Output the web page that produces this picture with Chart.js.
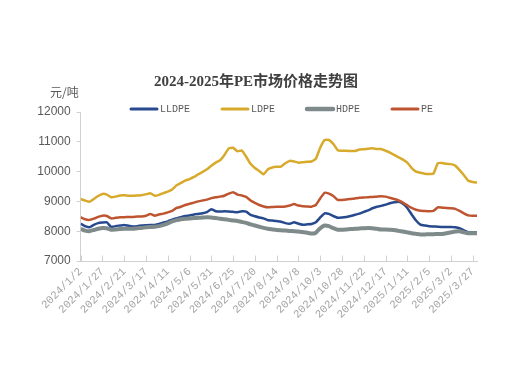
<!DOCTYPE html>
<html>
<head>
<meta charset="utf-8">
<script src="https://cdn.jsdelivr.net/npm/chart.js@4.4.1/dist/chart.umd.min.js"></script>
<style>
  html, body { margin: 0; padding: 0; background: #fff; }
  #wrap { width: 516px; height: 375px; position: relative; }
</style>
</head>
<body>
<div id="wrap"><canvas id="peChart"></canvas></div>
<script>
// 数据：日期按 2024/1/2 起算的天数，每 5 天取一个点
const days = [0,5,10,15,20,25,30,35,40,45,50,55,60,65,70,75,80,85,90,95,
  100,105,110,115,120,125,130,135,140,145,150,155,160,165,170,175,180,185,190,195,
  200,205,210,215,220,225,230,235,240,245,250,255,260,265,270,275,280,285,290,295,
  300,305,310,315,320,325,330,335,340,345,350,355,360,365,370,375,380,385,390,395,
  400,405,410,415,420,425,430,435,440,445,450,455];

const tickLabels = ['2024/1/2','2024/1/27','2024/2/21','2024/3/17','2024/4/11','2024/5/6',
  '2024/5/31','2024/6/25','2024/7/20','2024/8/14','2024/9/8','2024/10/3','2024/10/28',
  '2024/11/22','2024/12/17','2025/1/11','2025/2/5','2025/3/2','2025/3/27'];

const lldpe = [8250,8170,8130,8210,8270,8290,8300,8140,8170,8190,8210,8180,8160,8170,8190,8200,8210,8210,8240,8290,
  8330,8390,8430,8470,8510,8530,8560,8580,8600,8640,8740,8670,8660,8670,8660,8650,8640,8670,8660,8550,
  8500,8460,8430,8370,8360,8340,8320,8270,8250,8300,8250,8220,8230,8240,8300,8460,8600,8580,8510,8450,
  8460,8480,8510,8550,8590,8650,8700,8770,8820,8850,8890,8940,8970,8990,8920,8780,8560,8360,8220,8190,
  8170,8160,8150,8140,8140,8140,8130,8100,8030,7970,7960,7960];

const ldpe = [9080,9030,8990,9080,9180,9250,9230,9140,9160,9200,9210,9190,9190,9200,9210,9240,9270,9190,9220,9280,
  9330,9400,9540,9620,9700,9750,9820,9910,9990,10080,10200,10300,10380,10560,10780,10800,10680,10710,10500,10260,
  10120,10020,9910,10080,10140,10160,10170,10280,10360,10340,10300,10310,10330,10340,10430,10800,11060,11060,10930,10720,
  10700,10700,10690,10690,10740,10750,10770,10780,10760,10760,10700,10640,10560,10480,10400,10300,10120,10000,9960,9930,
  9920,9930,10280,10290,10260,10250,10200,10050,9880,9690,9650,9630];

const hdpe = [8080,8020,8000,8040,8080,8110,8100,8050,8060,8070,8080,8080,8080,8100,8110,8130,8140,8150,8170,8210,
  8260,8330,8370,8400,8420,8430,8440,8450,8460,8470,8460,8440,8420,8400,8380,8360,8340,8310,8280,8230,
  8190,8150,8110,8080,8060,8040,8030,8020,8010,8000,7990,7970,7950,7920,7950,8100,8190,8170,8100,8050,
  8050,8060,8070,8080,8090,8100,8110,8100,8080,8060,8060,8050,8040,8010,7990,7960,7930,7910,7890,7890,
  7900,7900,7910,7910,7930,7960,7990,8000,7960,7930,7930,7930];

const pe = [8470,8400,8380,8420,8480,8520,8510,8430,8450,8470,8470,8480,8480,8490,8490,8520,8580,8520,8560,8590,
  8630,8680,8780,8820,8880,8920,8960,9000,9030,9060,9110,9140,9160,9190,9260,9310,9230,9200,9150,9030,
  8950,8880,8830,8800,8810,8820,8820,8830,8860,8910,8860,8840,8830,8820,8880,9100,9290,9260,9180,9050,
  9050,9060,9080,9100,9120,9130,9140,9150,9160,9170,9160,9120,9080,9030,8960,8870,8780,8720,8690,8680,
  8670,8680,8800,8790,8780,8770,8750,8680,8600,8530,8520,8520];

const seriesNames = ['LLDPE', 'LDPE', 'HDPE', 'PE'];
const seriesColors = ['#274a8e', '#d8aa2c', '#7f8a8b', '#bf5530'];
const seriesWidths = [2.5, 2.5, 4, 2.5];
const seriesValues = [lldpe, ldpe, hdpe, pe];

const titleText = '2024-2025年PE市场价格走势图';
const unitText = '元/吨';

const toPoints = vals => vals.map((v, i) => ({ x: days[i], y: v }));

// 标题、单位和图例
const decorPlugin = {
  id: 'decor',
  afterDraw(chart) {
    const ctx = chart.ctx;
    ctx.save();
    ctx.fillStyle = '#404040';
    ctx.font = 'bold 15px "Liberation Serif", "Noto Sans CJK SC"';
    ctx.textAlign = 'center';
    ctx.textBaseline = 'middle';
    ctx.fillText(titleText, 256, 82);

    ctx.fillStyle = '#595959';
    ctx.font = '12px "Noto Sans CJK SC"';
    ctx.textAlign = 'left';
    ctx.fillText(unitText, 50, 92);

    const legendX = [131, 222, 307, 392];
    ctx.font = '10px "Liberation Mono"';
    seriesNames.forEach((name, i) => {
      ctx.strokeStyle = seriesColors[i];
      ctx.lineWidth = seriesWidths[i] + 0.5;
      ctx.lineCap = 'round';
      ctx.beginPath();
      ctx.moveTo(legendX[i], 109);
      ctx.lineTo(legendX[i] + 26, 109);
      ctx.stroke();
      ctx.fillStyle = '#595959';
      ctx.fillText(name, legendX[i] + 29, 109.5);
    });

    // x 轴刻度线（朝内）
    const xs = chart.scales.x;
    const bottom = chart.chartArea.bottom;
    ctx.strokeStyle = '#d0d0d0';
    ctx.lineWidth = 1;
    xs.ticks.forEach(t => {
      const px = Math.round(xs.getPixelForValue(t.value)) + 0.5;
      ctx.beginPath();
      ctx.moveTo(px, bottom);
      ctx.lineTo(px, bottom - 5);
      ctx.stroke();
    });
    ctx.restore();
  }
};

new Chart(document.getElementById('peChart'), {
  type: 'line',
  data: {
    datasets: seriesNames.map((name, i) => ({
      label: name,
      data: toPoints(seriesValues[i]),
      borderColor: seriesColors[i],
      backgroundColor: seriesColors[i],
      borderWidth: seriesWidths[i],
      pointRadius: 0,
      tension: 0.1,
      order: 4 - i
    }))
  },
  options: {
    responsive: true,
    maintainAspectRatio: false,
    animation: false,
    layout: { padding: { top: 112, right: 39, left: 0, bottom: 0 } },
    plugins: {
      legend: { display: false },
      title: { display: false },
      tooltip: { enabled: false }
    },
    scales: {
      x: {
        type: 'linear',
        min: 0,
        max: 455,
        grid: { display: false, drawTicks: false },
        border: { display: true, color: '#d0d0d0' },
        afterFit(scale) { scale.height = 114; },
        ticks: {
          stepSize: 25,
          includeBounds: false,
          autoSkip: false,
          minRotation: 45,
          maxRotation: 45,
          padding: 4,
          color: '#a6a6a6',
          font: { family: 'Liberation Mono', size: 11 },
          callback: v => tickLabels[v / 25]
        }
      },
      y: {
        min: 7000,
        max: 12000,
        grid: { drawOnChartArea: false, tickLength: 4, color: '#d0d0d0' },
        border: { display: true, color: '#d0d0d0' },
        afterFit(scale) { scale.width = 80.7; },
        ticks: {
          stepSize: 1000,
          padding: 6,
          color: '#595959',
          font: { family: 'Liberation Sans', size: 12 },
          callback: v => String(v)
        }
      }
    }
  },
  plugins: [decorPlugin]
});
</script>
</body>
</html>
